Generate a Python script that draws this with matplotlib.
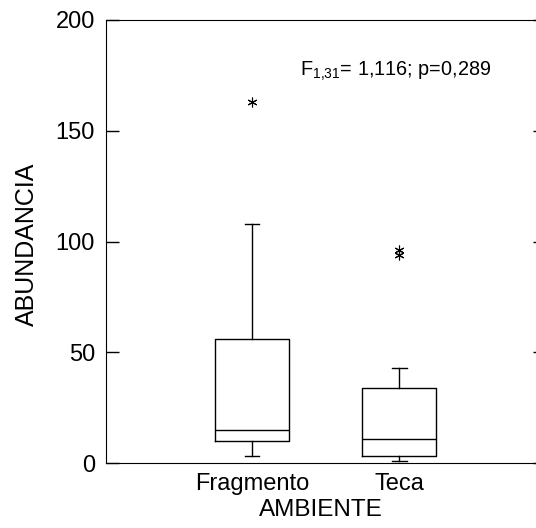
import matplotlib
matplotlib.use('Agg')
import matplotlib.pyplot as plt

plt.rcParams['font.family'] = ['Liberation Sans', 'DejaVu Sans']
plt.rcParams['mathtext.default'] = 'regular'

# box statistics
ambientes = ['Fragmento', 'Teca']
whislo = [3, 1]
q1 = [10, 3]
med = [15, 11]
q3 = [56, 34]
whishi = [108, 43]
fliers = [[163], [96, 94]]
yticks = [0, 50, 100, 150, 200]

stats = []
for i in range(len(ambientes)):
    stats.append(dict(label=ambientes[i], whislo=whislo[i], q1=q1[i], med=med[i],
                      q3=q3[i], whishi=whishi[i], fliers=fliers[i]))

fig = plt.figure(figsize=(5.36, 5.28), dpi=100)
ax = fig.add_axes([106/536, 65/528, 430/536, 443/528])

ax.bxp(stats, positions=[1, 2], widths=0.5, capwidths=0.1,
       boxprops=dict(color='black', linewidth=1),
       whiskerprops=dict(color='black', linewidth=1),
       capprops=dict(color='black', linewidth=1),
       medianprops=dict(color='black', linewidth=1),
       flierprops=dict(marker=(6, 2, 0), markersize=7, markeredgecolor='black',
                       markeredgewidth=0.8, linestyle='none'))

ax.set_xlim(0.007, 2.93)
ax.set_ylim(0, 200)
ax.set_yticks(yticks)
ax.spines['right'].set_visible(False)
ax.tick_params(axis='y', direction='in', length=9.4, width=1, right=True,
               labelsize=17, pad=8)
for t in ax.yaxis.get_major_ticks():
    t.tick2line.set_markersize(2.2)
ax.tick_params(axis='x', length=0, labelsize=17, pad=7.5)

ax.set_ylabel('ABUNDANCIA', fontsize=18)
ax.yaxis.set_label_coords(-0.157, 0.493)
ax.set_xlabel('AMBIENTE', fontsize=17.5, labelpad=2.5)

ax.text(0.451, 0.8736, 'F$_{1{,}31}$= 1,116; p=0,289', transform=ax.transAxes,
        fontsize=14.3, va='baseline', ha='left')

fig.savefig('out.png', dpi=100)
